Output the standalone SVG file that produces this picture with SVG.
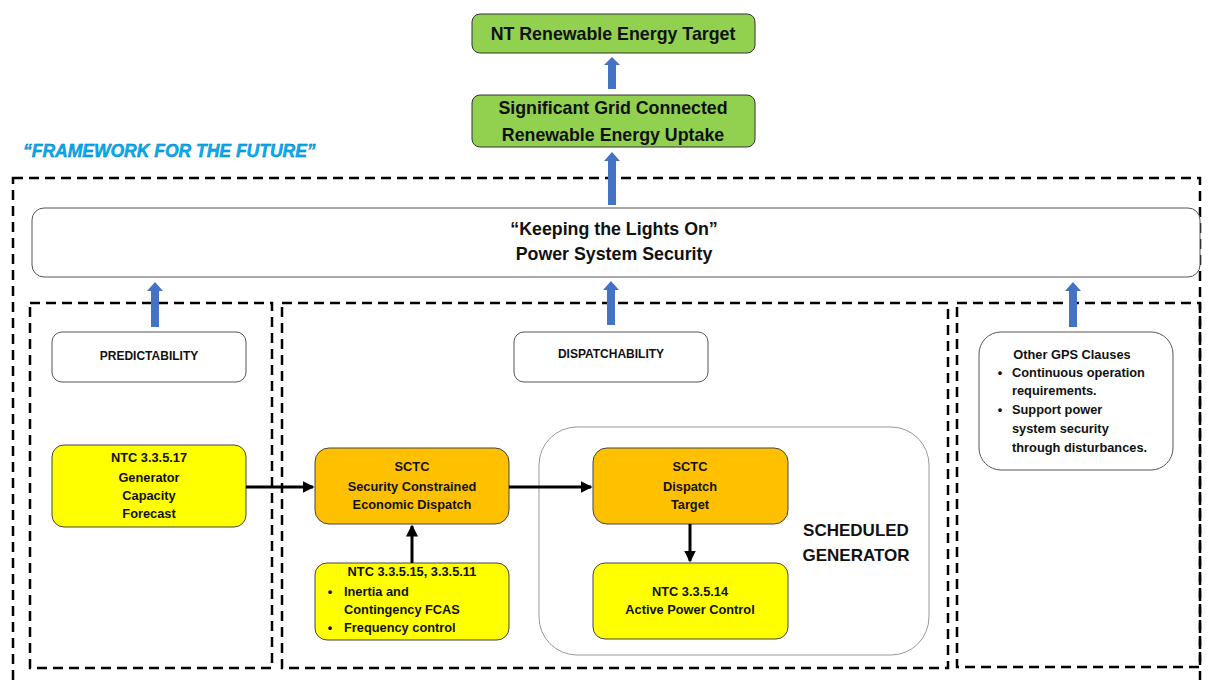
<svg xmlns="http://www.w3.org/2000/svg" width="1208" height="680" viewBox="0 0 1208 680">
<style>
text{font-family:"Liberation Sans",Arial,sans-serif;font-weight:bold;fill:#111;text-anchor:middle}
.green{fill:#92D050;stroke:#333;stroke-width:1}
.white{fill:#fff;stroke:#555;stroke-width:1}
.yellow{fill:#FFFF00;stroke:#444;stroke-width:1}
.orange{fill:#FFC000;stroke:#444;stroke-width:1}
.dash{fill:none;stroke:#000;stroke-width:2.5;stroke-dasharray:10,6}
.blk{fill:none;stroke:#000;stroke-width:3;marker-end:url(#ah)}
.blue{fill:#4472C4}
.s{font-size:12.8px}
.c{font-size:12px}
.m{font-size:17.8px}
.l{text-anchor:start}
</style>
<defs>
<marker id="ah" markerWidth="4" markerHeight="4" refX="3.5" refY="2" orient="auto" markerUnits="strokeWidth">
<path d="M0,0 L4,2 L0,4 z" fill="#000"/>
</marker>
</defs>

<text x="23" y="157" style="font-size:17.5px;font-style:italic;fill:#00B0F0;stroke:#0070C0;stroke-width:0.4;text-anchor:start">“FRAMEWORK FOR THE FUTURE”</text>

<g id="frames">
<rect class="dash" x="13" y="178" width="1187" height="520"/>
<rect class="dash" x="30" y="303" width="242" height="365"/>
<rect class="dash" x="282" y="303" width="666" height="365"/>
<rect class="dash" x="957" y="303" width="243" height="364"/>
</g>

<g id="nt-target">
<rect class="green" x="472" y="14" width="283" height="39" rx="8"/>
<text class="m" x="613" y="40">NT Renewable Energy Target</text>
</g>
<g id="grid-uptake">
<rect class="green" x="472" y="95" width="283" height="52" rx="8"/>
<text class="m" x="613" y="114">Significant Grid Connected</text>
<text class="m" x="613" y="141">Renewable Energy Uptake</text>
</g>
<g id="keeping-lights">
<rect class="white" x="32" y="208" width="1168" height="69" rx="12"/>
<text class="m" x="614" y="235">“Keeping the Lights On”</text>
<text class="m" x="614" y="260">Power System Security</text>
</g>
<g id="predictability">
<rect class="white" x="52" y="332" width="194" height="50" rx="10"/>
<text class="c" x="149" y="360">PREDICTABILITY</text>
</g>
<g id="dispatchability">
<rect class="white" x="514" y="332" width="194" height="50" rx="10"/>
<text class="c" x="611" y="358">DISPATCHABILITY</text>
</g>
<g id="other-gps">
<rect class="white" x="979" y="332" width="194" height="138" rx="22"/>
<text class="s" x="1072" y="359">Other GPS Clauses</text>
<text class="s" x="1000" y="377">•</text>
<text class="s l" x="1012" y="377">Continuous operation</text>
<text class="s l" x="1012" y="395">requirements.</text>
<text class="s" x="1000" y="414">•</text>
<text class="s l" x="1012" y="414">Support power</text>
<text class="s l" x="1012" y="433">system security</text>
<text class="s l" x="1012" y="452">through disturbances.</text>
</g>
<g id="ntc-33517">
<rect class="yellow" x="52" y="445" width="194" height="82" rx="12"/>
<text class="s" x="149" y="462">NTC 3.3.5.17</text>
<text class="s" x="149" y="482">Generator</text>
<text class="s" x="149" y="500">Capacity</text>
<text class="s" x="149" y="518">Forecast</text>
</g>
<g id="scheduled-generator">
<rect x="539" y="427" width="390" height="228" rx="38" fill="#fff" stroke="#999" stroke-width="1"/>
<text x="856" y="536" style="font-size:17px">SCHEDULED</text>
<text x="856" y="561" style="font-size:17px">GENERATOR</text>
</g>
<g id="sced">
<rect class="orange" x="315" y="448" width="194" height="76" rx="14"/>
<text class="s" x="412" y="471">SCTC</text>
<text class="s" x="412" y="491">Security Constrained</text>
<text class="s" x="412" y="509">Economic Dispatch</text>
</g>
<g id="ntc-33515">
<rect class="yellow" x="315" y="563" width="194" height="77" rx="12"/>
<text class="s" x="412" y="576">NTC 3.3.5.15, 3.3.5.11</text>
<text class="s" x="330" y="596">•</text>
<text class="s l" x="344" y="596">Inertia and</text>
<text class="s l" x="344" y="614">Contingency FCAS</text>
<text class="s" x="330" y="632">•</text>
<text class="s l" x="344" y="632">Frequency control</text>
</g>
<g id="dispatch-target">
<rect class="orange" x="593" y="448" width="195" height="76" rx="14"/>
<text class="s" x="690" y="471">SCTC</text>
<text class="s" x="690" y="491">Dispatch</text>
<text class="s" x="690" y="509">Target</text>
</g>
<g id="ntc-33514">
<rect class="yellow" x="593" y="563" width="195" height="76" rx="12"/>
<text class="s" x="690" y="596">NTC 3.3.5.14</text>
<text class="s" x="690" y="614">Active Power Control</text>
</g>

<g id="connectors">
<path class="blue" d="M608,89 V65 H604 L612,57 L620,65 H616 V89 Z"/>
<path class="blue" d="M608,205 V161 H604 L612,152 L620,161 H616 V205 Z"/>
<path class="blue" d="M151,327 V291 H147 L155,282 L163,291 H159 V327 Z"/>
<path class="blue" d="M607,325 V290 H603 L611,281 L619,290 H615 V325 Z"/>
<path class="blue" d="M1069,327 V291 H1065 L1073,282 L1081,291 H1077 V327 Z"/>
<line class="blk" x1="246" y1="487" x2="313" y2="487"/>
<line class="blk" x1="509" y1="487" x2="591" y2="487"/>
<line class="blk" x1="412" y1="563" x2="412" y2="526"/>
<line class="blk" x1="690" y1="524" x2="690" y2="561"/>
</g>
</svg>
